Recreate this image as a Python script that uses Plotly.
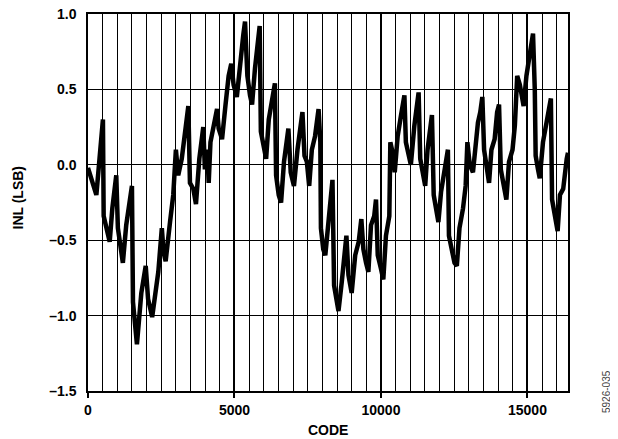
import plotly.graph_objects as go

# INL vs code
codes = [0, 100, 170, 285, 375, 455, 510, 535, 625, 740, 830, 965, 1020, 1135, 1190,
         1305, 1420, 1500, 1535, 1625, 1670, 1820, 1970, 2050, 2190, 2400, 2520, 2580,
         2650, 2800, 2910, 3000, 3080, 3200, 3310, 3425, 3480, 3595, 3685, 3800, 3935,
         3990, 4070, 4120, 4180, 4290, 4405, 4460, 4575, 4690, 4800, 4890, 4970, 5080,
         5200, 5300, 5360, 5440, 5530, 5600, 5700, 5810, 5860, 5900, 6000, 6080, 6170,
         6290, 6380, 6420, 6510, 6590, 6690, 6840, 6920, 7030, 7150, 7320, 7390, 7470,
         7550, 7640, 7750, 7870, 7930, 7950, 8030, 8100, 8210, 8290, 8345, 8400, 8480,
         8550, 8660, 8740, 8820, 8890, 9000, 9120, 9240, 9330, 9400, 9490, 9570, 9660,
         9770, 9830, 9890, 10000, 10080, 10170, 10285, 10320, 10400, 10470, 10570, 10685,
         10800, 10850, 10940, 11020, 11140, 11220, 11285, 11340, 11440, 11510, 11590,
         11740, 11800, 11880, 11960, 12050, 12170, 12285, 12320, 12400, 12510, 12590,
         12680, 12800, 12890, 12950, 13030, 13140, 13230, 13310, 13390, 13460, 13520,
         13600, 13690, 13770, 13880, 13965, 14030, 14090, 14190, 14280, 14370, 14490,
         14570, 14650, 14740, 14795, 14870, 14965, 15080, 15135, 15190, 15250, 15280,
         15360, 15420, 15530, 15650, 15800, 15840, 15935, 16030, 16110, 16220, 16340,
         16383]
inl = [-0.02, -0.08, -0.14, -0.2, 0.0, 0.19, 0.3, -0.34, -0.42, -0.51, -0.29, -0.07,
       -0.42, -0.6, -0.65, -0.4, -0.23, -0.14, -0.91, -1.07, -1.19, -0.85, -0.67, -0.89,
       -1.01, -0.71, -0.42, -0.58, -0.64, -0.38, -0.2, 0.1, -0.07, 0.04, 0.19, 0.39,
       -0.12, -0.16, -0.26, 0.04, 0.25, -0.03, 0.1, -0.12, 0.15, 0.26, 0.37, 0.24, 0.17,
       0.39, 0.59, 0.67, 0.53, 0.45, 0.7, 0.86, 0.95, 0.59, 0.46, 0.4, 0.64, 0.81, 0.92,
       0.22, 0.1, 0.04, 0.3, 0.44, 0.54, -0.07, -0.2, -0.25, 0.02, 0.24, -0.05, -0.14,
       0.1, 0.35, 0.06, 0.02, -0.14, 0.1, 0.19, 0.37, 0.15, -0.42, -0.56, -0.6, -0.34,
       -0.2, -0.1, -0.8, -0.91, -0.97, -0.78, -0.65, -0.47, -0.73, -0.85, -0.6, -0.51,
       -0.36, -0.56, -0.65, -0.71, -0.4, -0.34, -0.23, -0.6, -0.69, -0.76, -0.47, -0.34,
       0.15, 0.08, -0.05, 0.19, 0.33, 0.46, 0.15, 0.06, 0.0, 0.26, 0.39, 0.48, 0.04,
       -0.07, -0.14, 0.1, 0.33, -0.2, -0.31, -0.38, -0.18, -0.05, 0.1, -0.47, -0.56,
       -0.65, -0.67, -0.42, -0.29, -0.14, 0.15, 0.0, -0.05, 0.15, 0.28, 0.35, 0.45, 0.1,
       -0.03, -0.12, 0.1, 0.17, 0.35, 0.4, -0.03, -0.14, -0.23, 0.02, 0.1, 0.26, 0.59,
       0.53, 0.46, 0.39, 0.59, 0.73, 0.81, 0.87, 0.5, 0.06, -0.03, -0.09, 0.15, 0.28,
       0.44, -0.23, -0.34, -0.44, -0.2, -0.16, 0.04, 0.08]

x_ticks = [0, 5000, 10000, 15000]
x_labels = ["0", "5000", "10000", "15000"]
y_ticks = [-1.5, -1.0, -0.5, 0.0, 0.5, 1.0]
y_labels = ["–1.5", "–1.0", "–0.5", "0.0", "0.5", "1.0"]

font = dict(family="Liberation Sans, Arial", size=14, color="black", weight="bold")

fig = go.Figure(go.Scatter(
    x=codes, y=inl, mode="lines",
    line=dict(color="black", width=4.5),
    showlegend=False))

fig.update_xaxes(
    range=[0, 16384], tickvals=x_ticks, ticktext=x_labels,
    ticks="outside", ticklen=5, tickwidth=1.5, tickcolor="black", tickfont=font,
    ticklabeloverflow="allow",
    showgrid=True, gridcolor="black", gridwidth=1.5,
    minor=dict(dtick=500, tick0=0, showgrid=True, gridcolor="black", gridwidth=1),
    showline=True, linecolor="black", linewidth=1.5, mirror=True, zeroline=False,
    automargin=False)
fig.update_yaxes(
    range=[-1.5, 1.0], tickvals=y_ticks, ticktext=y_labels, ticks="", tickfont=font,
    ticklabelstandoff=7, ticklabeloverflow="allow",
    showgrid=True, gridcolor="black", gridwidth=1,
    showline=True, linecolor="black", linewidth=1.5, mirror=True, zeroline=False,
    automargin=False)

# axis titles
fig.add_annotation(text="CODE", xref="paper", yref="paper", x=0.5, y=0,
                   yshift=-39, yanchor="middle", showarrow=False, font=font)
fig.add_annotation(text="INL (LSB)", xref="paper", yref="paper", x=0, y=0.5,
                   xshift=-71, yshift=5, xanchor="center", textangle=-90,
                   showarrow=False, font=font)
fig.add_annotation(
    text="5926-035", xref="paper", yref="paper", x=1.0, y=0,
    xshift=46, yshift=-24, textangle=-90, showarrow=False,
    font=dict(family="Liberation Sans, Arial", size=10, color="#444444"))

# the page body has an 8px margin, so the figure is sized to fill the rest
fig.update_layout(
    width=610, height=431,
    margin=dict(l=80, r=50, t=6, b=48),
    paper_bgcolor="white", plot_bgcolor="white")

fig.write_html("out.html")
